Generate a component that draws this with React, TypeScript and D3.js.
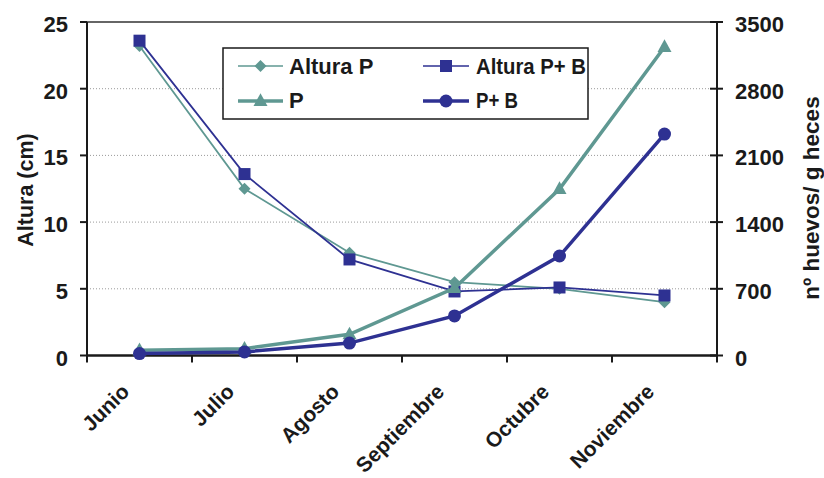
import React from "react";
import * as d3 from "d3";

const months = ["Junio", "Julio", "Agosto", "Septiembre", "Octubre", "Noviembre"];
const alturaP = [23.2, 12.5, 7.7, 5.5, 5.0, 4.0];
const alturaPB = [23.6, 13.6, 7.2, 4.8, 5.1, 4.5];
const huevosP = [55, 72, 222, 708, 1747, 3237];
const huevosPB = [20, 38, 130, 415, 1044, 2324];
const leftTicks = [0, 5, 10, 15, 20, 25];
const rightTicks = [0, 700, 1400, 2100, 2800, 3500];

const TEAL = "#5F9892";
const NAVY = "#2E3192";
const FONT = "'Liberation Sans', Arial, sans-serif";

export default function App() {
  const W = 824, H = 478;
  const x0 = 87, x1 = 717, yTop = 22, yBot = 355.5;
  const band = d3.scaleBand<string>().domain(months).range([x0, x1]).padding(0);
  const cx = (m: string) => (band(m) as number) + band.bandwidth() / 2;
  const yL = d3.scaleLinear().domain([0, 25]).range([yBot, yTop]);
  const yR = d3.scaleLinear().domain([0, 3500]).range([yBot, yTop]);

  const lineL = d3.line<number>().x((_, i) => cx(months[i])).y((d) => yL(d));
  const lineR = d3.line<number>().x((_, i) => cx(months[i])).y((d) => yR(d));

  const diamond = (x: number, y: number, s: number, c: string, k?: any) => (
    <path key={k} d={`M${x},${y - s}L${x + s},${y}L${x},${y + s}L${x - s},${y}Z`} fill={c} />
  );
  const square = (x: number, y: number, s: number, c: string, k?: any) => (
    <rect key={k} x={x - s} y={y - s} width={2 * s} height={2 * s} fill={c} />
  );
  const tri = (x: number, y: number, s: number, c: string, k?: any) => (
    <path key={k} d={`M${x},${y - s * 1.1}L${x + s},${y + s * 0.7}L${x - s},${y + s * 0.7}Z`} fill={c} />
  );
  const circ = (x: number, y: number, r: number, c: string, k?: any) => (
    <circle key={k} cx={x} cy={y} r={r} fill={c} />
  );

  const boundaries = d3.range(months.length + 1).map((i) => x0 + i * band.bandwidth());

  // legend
  const lx = 223, ly = 48, lw = 365, lh = 71;
  const legendItems = [
    { label: "Altura P", c: TEAL, w: 1.5, m: diamond, s: 6, col: 0, row: 0, tl: 0 },
    { label: "Altura P+ B", c: NAVY, w: 1.5, m: square, s: 6, col: 1, row: 0, tl: 110 },
    { label: "P", c: TEAL, w: 3.5, m: tri, s: 7, col: 0, row: 1, tl: 0 },
    { label: "P+ B", c: NAVY, w: 3.5, m: circ, s: 6.5, col: 1, row: 1, tl: 42 },
  ];

  return (
    <svg width={W} height={H} style={{ position: "absolute", left: 0, top: 0, background: "#fff" }} fontFamily={FONT}>
      <rect x={0} y={0} width={W} height={H} fill="#fff" />
      {/* gridlines */}
      {leftTicks.filter((t) => t > 0 && t < 25).map((t) => (
        <line key={t} x1={x0} x2={x1} y1={yL(t)} y2={yL(t)} stroke="#9a9a9a" strokeWidth={1} strokeDasharray="1,2" />
      ))}
      {/* top border */}
      <line x1={x0} x2={x1} y1={yTop} y2={yTop} stroke="#333" strokeWidth={1.5} />
      {/* left axis */}
      <line x1={x0} x2={x0} y1={yTop} y2={yBot} stroke="#1a1a1a" strokeWidth={2} />
      {leftTicks.map((t) => (
        <g key={t}>
          <line x1={x0 - 7} x2={x0} y1={yL(t)} y2={yL(t)} stroke="#1a1a1a" strokeWidth={2} />
          <text x={68} y={yL(t) + 10} textAnchor="end" fontSize={22} fontWeight="bold" fill="#1a1a1a">{t}</text>
        </g>
      ))}
      {/* right axis */}
      <line x1={x1} x2={x1} y1={yTop} y2={yBot + 6} stroke="#1a1a1a" strokeWidth={2} />
      {rightTicks.map((t) => (
        <g key={t}>
          <line x1={x1 - 7} x2={x1 + 6} y1={yR(t)} y2={yR(t)} stroke="#1a1a1a" strokeWidth={2} />
          <text x={735} y={yR(t) + 10} textAnchor="start" fontSize={22} fontWeight="bold" fill="#1a1a1a">{t}</text>
        </g>
      ))}
      {/* bottom axis */}
      <line x1={x0} x2={x1} y1={yBot} y2={yBot} stroke="#1a1a1a" strokeWidth={2.5} />
      {boundaries.map((b, i) => (
        <line key={i} x1={b} x2={b} y1={yBot} y2={yBot + 7} stroke="#1a1a1a" strokeWidth={2} />
      ))}
      {months.map((m) => (
        <text key={m} transform={`translate(${cx(m) - 9},393) rotate(-45)`} textAnchor="end" fontSize={21} fontWeight="bold" fill="#1a1a1a">{m}</text>
      ))}
      {/* axis titles */}
      <text transform="translate(33,190) rotate(-90)" textAnchor="middle" fontSize={21.5} fontWeight="bold" fill="#1a1a1a">Altura (cm)</text>
      <text transform="translate(819,198) rotate(-90)" textAnchor="middle" fontSize={22.5} fontWeight="bold" fill="#1a1a1a">nº huevos/ g heces</text>

      {/* series */}
      <path d={lineL(alturaP) as string} fill="none" stroke={TEAL} strokeWidth={1.8} />
      {alturaP.map((d, i) => diamond(cx(months[i]), yL(d), 6, TEAL, "d" + i))}
      <path d={lineL(alturaPB) as string} fill="none" stroke={NAVY} strokeWidth={1.8} />
      {alturaPB.map((d, i) => square(cx(months[i]), yL(d), 6, NAVY, "s" + i))}
      <path d={lineR(huevosP) as string} fill="none" stroke={TEAL} strokeWidth={3.5} />
      {huevosP.map((d, i) => tri(cx(months[i]), yR(d), 7, TEAL, "t" + i))}
      <path d={lineR(huevosPB) as string} fill="none" stroke={NAVY} strokeWidth={3.5} />
      {huevosPB.map((d, i) => circ(cx(months[i]), yR(d), 6.5, NAVY, "c" + i))}

      {/* legend */}
      <rect x={lx} y={ly} width={lw} height={lh} fill="#fff" stroke="#1a1a1a" strokeWidth={1.5} />
      {legendItems.map((it, i) => {
        const sx = it.col === 0 ? 238 : 423;
        const ex = it.col === 0 ? 283 : 469;
        const my = it.row === 0 ? 66 : 101;
        const tx = it.col === 0 ? 289 : 476;
        const ty = it.row === 0 ? 74 : 108;
        const extra: any = it.tl ? { textLength: it.tl, lengthAdjust: "spacingAndGlyphs" } : {};
        return (
          <g key={i}>
            <line x1={sx} x2={ex} y1={my} y2={my} stroke={it.c} strokeWidth={it.w} />
            {it.m((sx + ex) / 2, my, it.s, it.c)}
            <text x={tx} y={ty} fontSize={22} fontWeight="bold" fill="#1a1a1a" {...extra}>{it.label}</text>
          </g>
        );
      })}
    </svg>
  );
}
